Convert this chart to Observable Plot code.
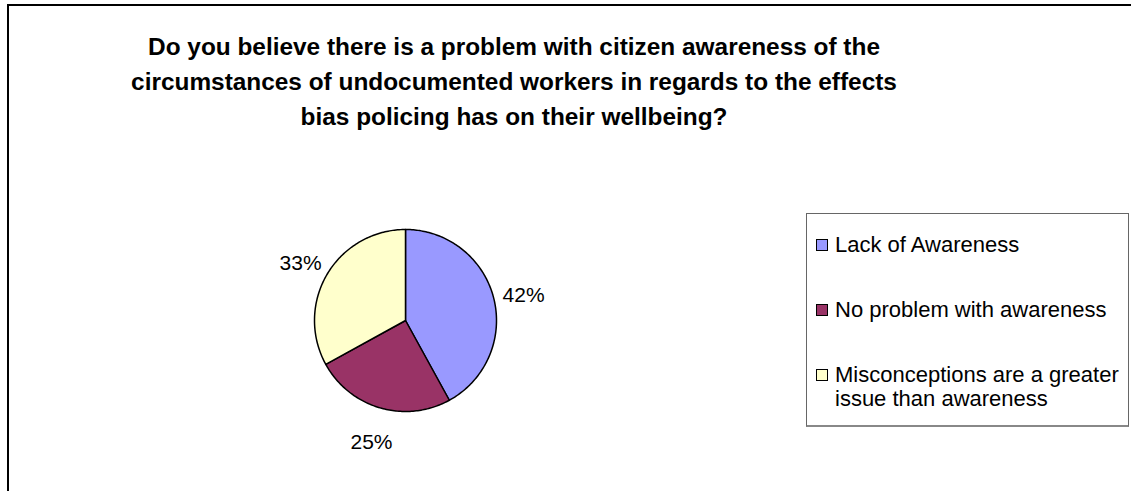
<!DOCTYPE html>
<html>
<head>
<meta charset="utf-8">
<script src="https://cdn.jsdelivr.net/npm/d3@7"></script>
<script src="https://cdn.jsdelivr.net/npm/@observablehq/plot@0.6"></script>
<style>
html, body { margin: 0; padding: 0; background: #fff; overflow: hidden; }
#page { position: relative; width: 1131px; height: 491px; overflow: hidden; font-family: "Liberation Sans", Arial, sans-serif; background: #fff; }
#frame { position: absolute; left: 7px; top: 4px; width: 1200px; height: 600px; border-top: 2px solid #000; border-left: 2px solid #000; }
#title { position: absolute; left: 0; top: 0; width: 1028px; height: 140px; box-sizing: border-box; padding-top: 29px; text-align: center; font-weight: bold; font-size: 24.4px; line-height: 35px; color: #000; }
#chart { position: absolute; left: 0; top: 140px; }
#legend { position: absolute; left: 806px; top: 213px; width: 323px; height: 214px; box-sizing: border-box; border: 1px solid #666; border-bottom: 2px solid #888; background: #fff; }
.sw { position: absolute; left: 9px; width: 12px; height: 12px; box-sizing: border-box; border: 1px solid #000; }
.lt { position: absolute; left: 28px; width: 292px; font-size: 22px; line-height: 24px; color: #000; }
</style>
</head>
<body>
<div id="page">
  <div id="frame"></div>
  <div id="title"></div>
  <div id="chart"></div>
  <div id="legend"></div>
</div>
<script>
// ---- data ----
const titleLines = [
  "Do you believe there is a problem with citizen awareness of the",
  "circumstances of undocumented workers in regards to the effects",
  "bias policing has on their wellbeing?"
];
const categories = ["Lack of Awareness", "No problem with awareness", "Misconceptions are a greater issue than awareness"];
const values = [42, 25, 33];
const colors = ["#9999FF", "#993366", "#FFFFCC"];

// ---- layout ----
const W = 1131, H = 351;
const cx = 405, cy = 180, R = 91;

document.getElementById("title").innerHTML = titleLines.join("<br>");

const pie = d3.pie().sort(null).value(d => d.value).startAngle(0).endAngle(2 * Math.PI);
const rows = categories.map((c, i) => ({cat: c, value: values[i]}));
const arcs = pie(rows);
const total = d3.sum(values);

// polygon points of each slice, in unit-circle coordinates (angle clockwise from 12 o'clock)
const pts = [];
arcs.forEach(a => {
  const cat = a.data.cat;
  pts.push({cat, x: 0, y: 0});
  const n = Math.max(2, Math.ceil((a.endAngle - a.startAngle) / (Math.PI / 180)));
  for (let k = 0; k <= n; k++) {
    const t = a.startAngle + (a.endAngle - a.startAngle) * k / n;
    pts.push({cat, x: Math.sin(t), y: Math.cos(t)});
  }
  pts.push({cat, x: 0, y: 0});
});

const labels = arcs.map(a => {
  const m = (a.startAngle + a.endAngle) / 2;
  return {cat: a.data.cat, x: 1.34 * Math.sin(m), y: 1.34 * Math.cos(m), text: Math.round(a.data.value / total * 100) + "%"};
});

const plot = Plot.plot({
  width: W,
  height: H,
  margin: 0,
  style: {background: "transparent", fontFamily: "'Liberation Sans', Arial, sans-serif"},
  x: {domain: [-cx / R, (W - cx) / R], range: [0, W], axis: null},
  y: {domain: [-(H - cy) / R, cy / R], range: [H, 0], axis: null},
  color: {domain: categories, range: colors},
  marks: [
    Plot.line(pts, {x: "x", y: "y", z: "cat", fill: "cat", stroke: "#000", strokeWidth: 1.5, curve: "linear", strokeLinejoin: "round"}),
    Plot.text(labels, {x: "x", y: "y", text: "text", fontSize: 21, fill: "#000", textAnchor: "middle", lineAnchor: "middle", dy: 5})
  ]
});
document.getElementById("chart").appendChild(plot);

// legend
const color = plot.scale("color");
const legend = d3.select("#legend");
const rowTops = [19, 84, 149];
categories.forEach((c, i) => {
  legend.append("div").attr("class", "sw")
    .style("top", (rowTops[i] + 6) + "px")
    .style("background", color.apply(c));
  legend.append("div").attr("class", "lt")
    .style("top", rowTops[i] + "px")
    .text(c);
});
</script>
</body>
</html>
